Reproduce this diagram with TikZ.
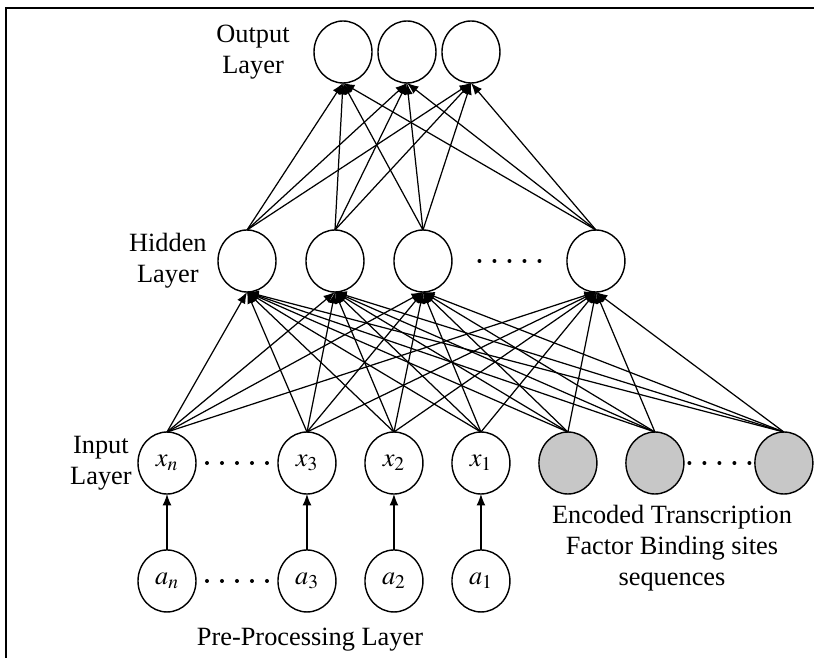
\documentclass[tikz,border=0pt]{standalone}
\usepackage{mathptmx}
\usepackage{fontspec}
\setmainfont{Liberation Serif}
\usetikzlibrary{shapes.geometric, arrows.meta, positioning, calc}
\tikzset{
    net/.style={font=\fontsize{15}{17.5}\selectfont},
    net unit/.style={ellipse, draw, line width=0.8pt, inner sep=0pt, outer sep=0pt,
        minimum width=1.16cm, minimum height=1.24cm},
    net site/.style={net unit, fill=black!22},
    net arrow/.style={-{Latex[length=2.3mm, width=1.8mm]}, line width=0.7pt},
    net label/.style={align=center, inner sep=0pt},
}

\begin{document}
\begin{tikzpicture}[net, x=0.02cm, y=-0.02cm, node distance=0.58cm]
    \useasboundingbox (0,0) rectangle (814,658);
    \draw[line width=1.1pt] (6,658) -- (6,8) -- (814,8);

    % Nodes
    \node[net unit] (xn) at (167,463) {$x_n$};
    \node[net unit, right=1.64cm of xn] (x3) {$x_3$};
    \node[net unit, right=of x3] (x2) {$x_2$};
    \node[net unit, right=of x2] (x1) {$x_1$};
    \node[net site, right=of x1] (s1) {};
    \node[net site, right=of s1] (s2) {};
    \node[net site, right=1.42cm of s2] (s3) {};

    \node[net unit, below=1.12cm of xn] (an) {$a_n$};
    \node[net unit, below=1.12cm of x3] (a3) {$a_3$};
    \node[net unit, below=1.12cm of x2] (a2) {$a_2$};
    \node[net unit, below=1.12cm of x1] (a1) {$a_1$};

    \node[net unit] (h1) at (247,261) {};
    \node[net unit, right=0.6cm of h1] (h2) {};
    \node[net unit, right=0.6cm of h2] (h3) {};
    \node[net unit, right=2.3cm of h3] (h4) {};

    \node[net unit] (o1) at (343,52) {};
    \node[net unit, right=0.12cm of o1] (o2) {};
    \node[net unit, right=0.12cm of o2] (o3) {};

    % Labels
    \node[net label, left=0.48cm of o1] (outlbl) {Output\\Layer};
    \node[net label, left=0.22cm of h1] (hidlbl) {Hidden\\Layer};
    \node[net label, left=0.12cm of xn] (inlbl) {Input\\Layer};
    \node[net label] (enclbl) at (672,548) {Encoded Transcription\\Factor Binding sites\\sequences};
    \node[net label] (prelbl) at (310,640) {Pre-Processing Layer};

    % Dots
    \foreach \a/\b in {xn/x3, an/a3, h3/h4, s2/s3}
        \foreach \k in {-2,...,2}
            \fill ($(\a)!0.5!(\b)$) ++(\k*15,0) circle[radius=0.04cm];

    % Arrows
    \foreach \i in {xn,x3,x2,x1,s1,s2,s3}
        \foreach \h in {h1,h2,h3,h4}
            \draw[net arrow] (\i.north) -- (\h.south);
    \foreach \h in {h1,h2,h3,h4}
        \foreach \o in {o1,o2,o3}
            \draw[net arrow] (\h.north) -- (\o.south);
    \foreach \a/\x in {an/xn, a3/x3, a2/x2, a1/x1}
        \draw[net arrow] (\a) -- (\x);

\end{tikzpicture}
\end{document}
